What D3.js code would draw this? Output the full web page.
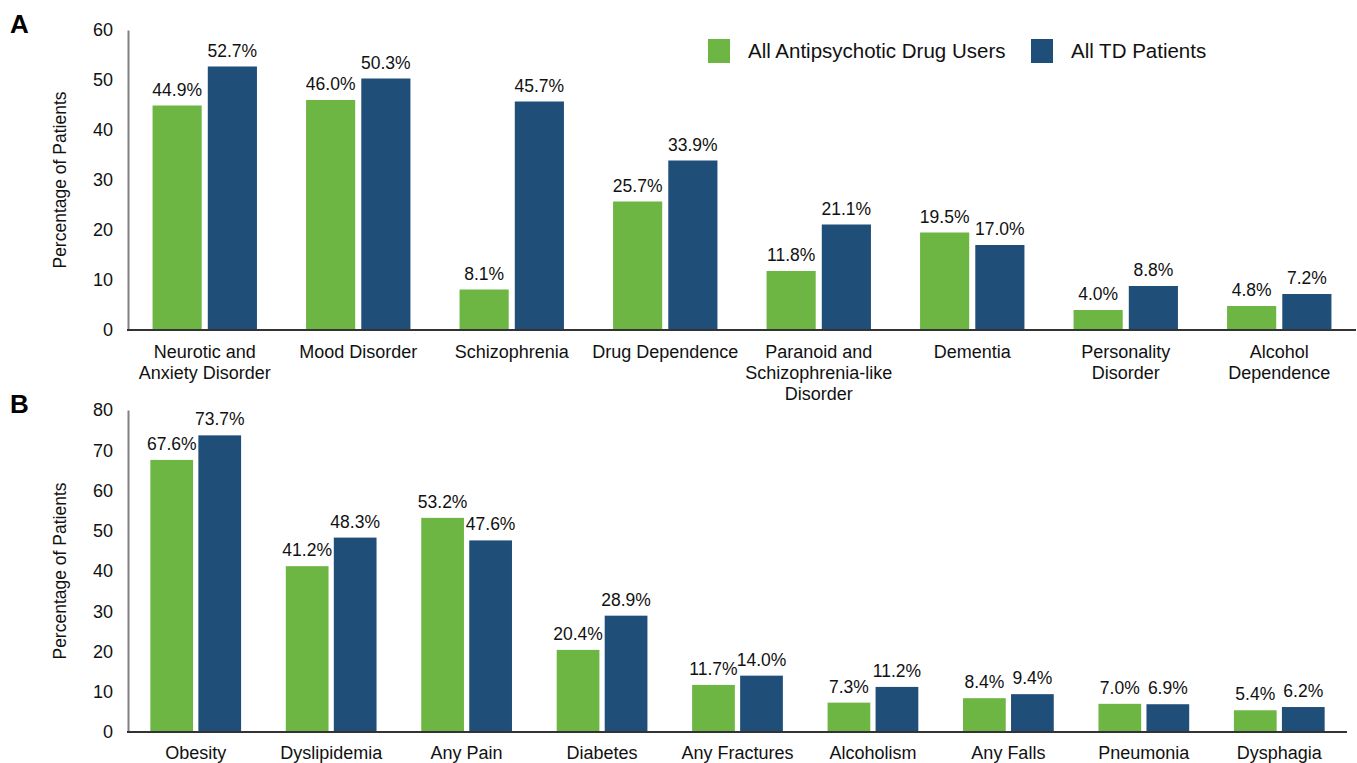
<!DOCTYPE html>
<html>
<head>
<meta charset="utf-8">
<script src="https://cdn.jsdelivr.net/npm/d3@7"></script>
<style>
  body { margin: 0; background: #fff; }
  svg { font-family: "Liberation Sans", Arial, sans-serif; }
</style>
</head>
<body>
<div id="chart"></div>
<script>
const w = 1357;
const h = 763;

const seriesNames = ["All Antipsychotic Drug Users", "All TD Patients"];
const colors = ["#6db644", "#1f4e79"];

const catsA = [
  ["Neurotic and", "Anxiety Disorder"],
  ["Mood Disorder"],
  ["Schizophrenia"],
  ["Drug Dependence"],
  ["Paranoid and", "Schizophrenia-like", "Disorder"],
  ["Dementia"],
  ["Personality", "Disorder"],
  ["Alcohol", "Dependence"]
];
const usersA = [44.9, 46.0, 8.1, 25.7, 11.8, 19.5, 4.0, 4.8];
const tdA = [52.7, 50.3, 45.7, 33.9, 21.1, 17.0, 8.8, 7.2];
const ticksA = [0, 10, 20, 30, 40, 50, 60];

const catsB = [
  ["Obesity"], ["Dyslipidemia"], ["Any Pain"], ["Diabetes"], ["Any Fractures"],
  ["Alcoholism"], ["Any Falls"], ["Pneumonia"], ["Dysphagia"]
];
const usersB = [67.6, 41.2, 53.2, 20.4, 11.7, 7.3, 8.4, 7.0, 5.4];
const tdB = [73.7, 48.3, 47.6, 28.9, 14.0, 11.2, 9.4, 6.9, 6.2];
const ticksB = [0, 10, 20, 30, 40, 50, 60, 70, 80];

let svg = d3.select("#chart").append("svg")
  .attr("width", w)
  .attr("height", h);

function panel(opts) {
  let g = svg.append("g");
  let names = opts.cats.map(c => c.join(" "));
  let xScale = d3.scaleBand()
    .domain(names)
    .range([opts.x0, opts.x1])
    .paddingInner(opts.pad)
    .paddingOuter(opts.pad / 2);
  let xSub = d3.scaleBand()
    .domain([0, 1])
    .range([0, xScale.bandwidth()])
    .paddingInner(0.11);
  let yScale = d3.scaleLinear()
    .domain([0, opts.max])
    .range([opts.y0, opts.y1]);

  let rows = names.map((n, i) => ({ name: n, lines: opts.cats[i], vals: [opts.a[i], opts.b[i]] }));

  // y axis
  let yAxis = g.append("g")
    .attr("transform", "translate(" + opts.x0 + ",0)")
    .call(d3.axisLeft(yScale).tickValues(opts.ticks).tickSize(0).tickPadding(15));
  yAxis.select(".domain").attr("stroke", "#808080").attr("stroke-width", 2);
  yAxis.selectAll("text").attr("font-size", 18).attr("fill", "#111")
    .style("font-family", "Liberation Sans, Arial, sans-serif");

  // bars
  let groups = g.selectAll(".grp").data(rows).enter().append("g")
    .attr("transform", d => "translate(" + xScale(d.name) + ",0)");
  groups.selectAll("rect").data(d => d.vals).enter().append("rect")
    .attr("x", (d, i) => xSub(i))
    .attr("width", xSub.bandwidth())
    .attr("y", d => yScale(d))
    .attr("height", d => yScale(0) - yScale(d))
    .attr("fill", (d, i) => colors[i]);
  groups.selectAll(".val").data(d => d.vals).enter().append("text")
    .attr("x", (d, i) => xSub(i) + xSub.bandwidth() / 2)
    .attr("y", d => yScale(d) - 10)
    .attr("text-anchor", "middle")
    .attr("font-size", 17.5)
    .attr("fill", "#111")
    .text(d => d.toFixed(1) + "%");

  // x axis
  g.append("line")
    .attr("x1", opts.x0 - 1).attr("x2", opts.x1)
    .attr("y1", yScale(0)).attr("y2", yScale(0))
    .attr("stroke", "#333").attr("stroke-width", 2);

  groups.append("text")
    .attr("x", xScale.bandwidth() / 2)
    .attr("y", yScale(0) + opts.labelDy)
    .attr("text-anchor", "middle")
    .attr("font-size", 18)
    .attr("fill", "#111")
    .selectAll("tspan").data(d => d.lines).enter().append("tspan")
    .attr("x", xScale.bandwidth() / 2)
    .attr("dy", (d, i) => i === 0 ? 0 : 21)
    .text(d => d);

  // y title
  g.append("text")
    .attr("transform", "translate(66," + ((opts.y0 + opts.y1) / 2) + ") rotate(-90)")
    .attr("text-anchor", "middle")
    .attr("font-size", 17.5)
    .attr("fill", "#111")
    .text("Percentage of Patients");

  // panel letter
  g.append("text")
    .attr("x", 10)
    .attr("y", opts.letterY)
    .attr("font-size", 26)
    .attr("font-weight", "bold")
    .attr("fill", "#000")
    .text(opts.letter);
}

panel({ cats: catsA, a: usersA, b: tdA, ticks: ticksA, max: 60, labelDy: 28,
  x0: 128, x1: 1356, y0: 330, y1: 30, pad: 0.32, letter: "A", letterY: 33 });
panel({ cats: catsB, a: usersB, b: tdB, ticks: ticksB, max: 80, labelDy: 27,
  x0: 128, x1: 1347, y0: 732, y1: 410, pad: 0.33, letter: "B", letterY: 413 });

// legend
let legend = svg.append("g");
let legendX = [708, 1031];
seriesNames.forEach((s, i) => {
  legend.append("rect")
    .attr("x", legendX[i]).attr("y", 39)
    .attr("width", 22).attr("height", 24)
    .attr("fill", colors[i]);
  legend.append("text")
    .attr("x", legendX[i] + 40).attr("y", 58)
    .attr("font-size", 20.5)
    .attr("fill", "#111")
    .text(s);
});
</script>
</body>
</html>
